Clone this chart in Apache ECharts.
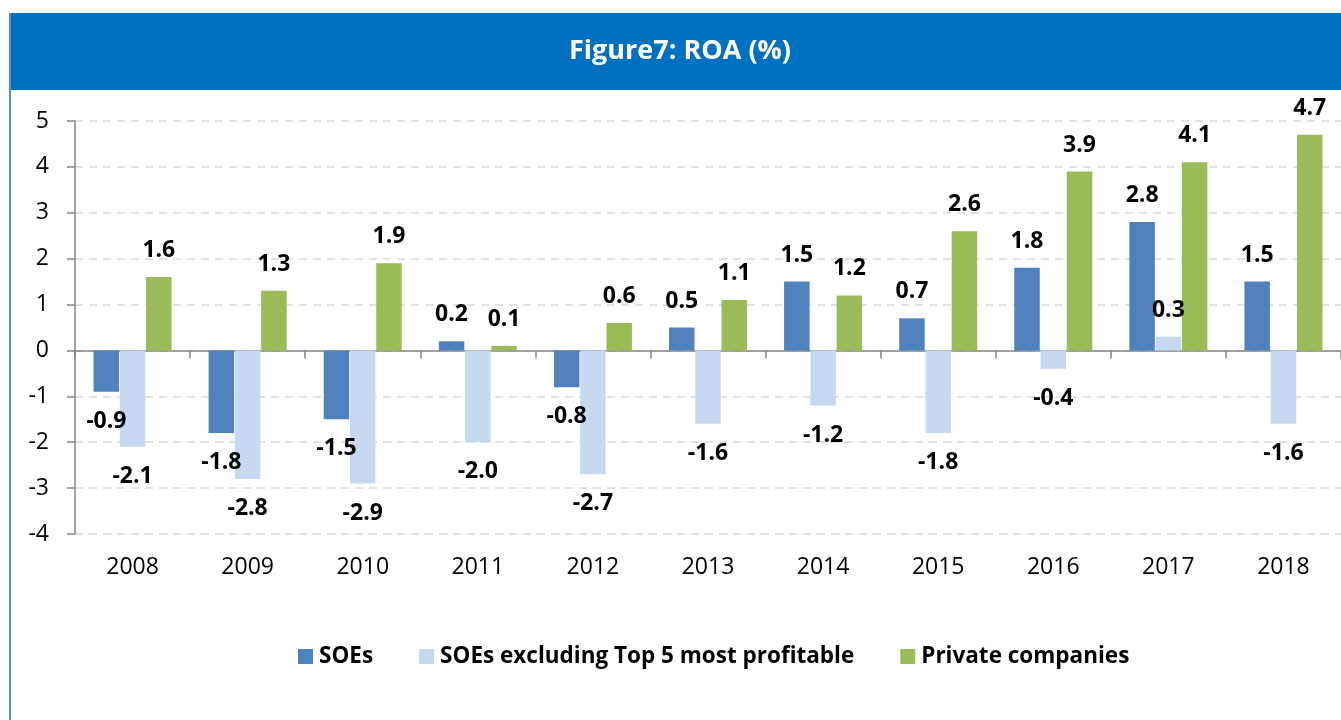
<!DOCTYPE html>
<html>
<head>
<meta charset="utf-8">
<script src="https://cdn.jsdelivr.net/npm/echarts@6/dist/echarts.min.js"></script>
<style>
html,body{margin:0;padding:0;background:#fff;}
#chart{width:1341px;height:720px;}
</style>
</head>
<body>
<div id="chart"></div>
<script>
const titleText = 'Figure7: ROA (%)';
const years = ['2008','2009','2010','2011','2012','2013','2014','2015','2016','2017','2018'];
const seriesNames = ['SOEs','SOEs excluding Top 5 most profitable','Private companies'];
const soes = [-0.9,-1.8,-1.5,0.2,-0.8,0.5,1.5,0.7,1.8,2.8,1.5];
const soesExTop5 = [-2.1,-2.8,-2.9,-2.0,-2.7,-1.6,-1.2,-1.8,-0.4,0.3,-1.6];
const privateCos = [1.6,1.3,1.9,0.1,0.6,1.1,1.2,2.6,3.9,4.1,4.7];
const yMin = -4, yMax = 5, yStep = 1;
const colors = ['#4F81BD','#C6D9F1','#9BBB59'];

const font = '"Open Sans", "Noto Sans", sans-serif';
const chart = echarts.init(document.getElementById('chart'), null, {renderer:'canvas'});

function mkSeries(name, data, color){
  return {
    name: name,
    type: 'bar',
    xAxisIndex: 0,
    barWidth: 25.5,
    barGap: '3%',
    itemStyle: {color: color},
    data: data.map(v => ({
      value: v,
      label: {
        show: true,
        position: v >= 0 ? 'top' : 'bottom',
        distance: v >= 0 ? 15 : 18,
        formatter: p => p.value.toFixed(1),
        fontFamily: font, fontWeight: 'bold', fontSize: 23, color: '#000'
      }
    }))
  };
}

chart.setOption({
  animation: false,
  backgroundColor: '#fff',
  graphic: [
    {type:'rect', shape:{x:10,y:13,width:1331,height:77}, style:{fill:'#0070C0'}, z:-1},
    {type:'rect', shape:{x:9,y:13,width:2,height:707}, style:{fill:'#4F8FDB'}, z:-1},
    {type:'text', x:680, y:51, style:{text:titleText, fill:'#fff', font:'bold 27px "Open Sans", sans-serif', textAlign:'center', textVerticalAlign:'middle'}}
  ],
  legend: {
    left: 293, top: 640,
    itemWidth: 15, itemHeight: 15, itemGap: 46,
    icon: 'rect',
    textStyle: {fontFamily: font, fontWeight:'bold', fontSize: 22.5, color:'#000', padding:[0,0,0,1]},
    data: seriesNames
  },
  grid: {left: 75, top: 121, width: 1272, height: 413, containLabel: false},
  xAxis: [
    {
      type:'category', data: years, position:'bottom',
      axisLine:{show:false, onZero:false}, axisTick:{show:false},
      axisLabel:{fontFamily:font, fontSize:23, color:'#000', margin:22},
      splitLine:{show:false}
    },
    {
      type:'category', data: years, position:'bottom',
      axisLine:{show:true, onZero:true, lineStyle:{color:'#868686', width:1.5}},
      axisTick:{show:true, length:8, lineStyle:{color:'#868686', width:1.5}},
      axisLabel:{show:false},
      splitLine:{show:false}
    }
  ],
  yAxis: {
    type:'value', min:yMin, max:yMax, interval:yStep,
    axisLine:{show:true, lineStyle:{color:'#868686', width:1.5}},
    axisTick:{show:true, length:8, lineStyle:{color:'#868686', width:1.5}},
    axisLabel:{fontFamily:font, fontSize:23, color:'#000', margin:26},
    splitLine:{show:true, lineStyle:{color:'#D9D9D9', type:[8,6], width:1.5}}
  },
  series: [
    mkSeries(seriesNames[0], soes, colors[0]),
    mkSeries(seriesNames[1], soesExTop5, colors[1]),
    mkSeries(seriesNames[2], privateCos, colors[2])
  ]
});
</script>
</body>
</html>
